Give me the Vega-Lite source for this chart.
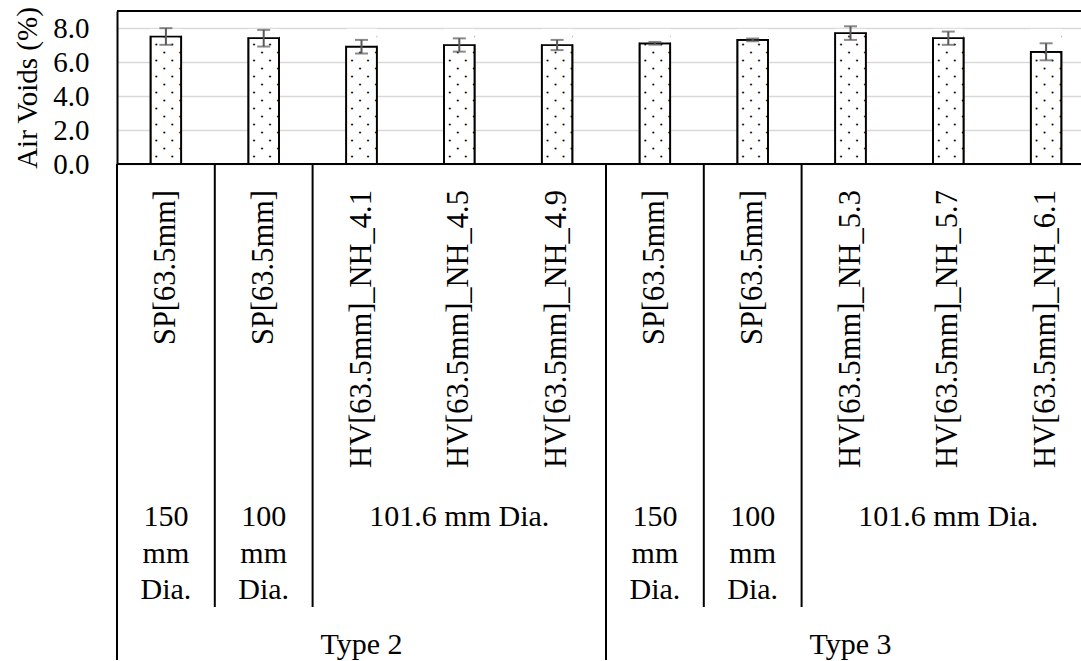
{
  "$schema": "https://vega.github.io/schema/vega-lite/v6.json",
  "padding": {"left": 13, "top": 6, "right": 0, "bottom": 0},
  "background": "white",
  "spacing": 0,
  "bounds": "flush",
  "config": {
    "font": "Liberation Serif",
    "view": {"stroke": null},
    "text": {"font": "Liberation Serif", "color": "black"},
    "axisY": {
      "grid": true, "gridColor": "#d9d9d9", "gridWidth": 1.7,
      "domainColor": "black", "domainWidth": 2, "ticks": false,
      "labelFontSize": 29, "labelPadding": 28, "labelColor": "black", "labelFont": "Liberation Serif",
      "labelOverlap": false, "labelBound": false, "labelFlush": false,
      "titleFontSize": 29, "titleFontWeight": "normal", "titleColor": "black", "titleFont": "Liberation Serif",
      "titlePadding": 10
    }
  },
  "datasets": {
    "bars": [
      {"cat": "T2_SP150", "label": "SP[63.5mm]", "value": 7.5, "lo": 7.01, "hi": 7.99},
      {"cat": "T2_SP100", "label": "SP[63.5mm]", "value": 7.4, "lo": 6.91, "hi": 7.89},
      {"cat": "T2_HV41", "label": "HV[63.5mm]_NH_4.1", "value": 6.9, "lo": 6.5, "hi": 7.3},
      {"cat": "T2_HV45", "label": "HV[63.5mm]_NH_4.5", "value": 7.0, "lo": 6.61, "hi": 7.39},
      {"cat": "T2_HV49", "label": "HV[63.5mm]_NH_4.9", "value": 7.0, "lo": 6.7, "hi": 7.3},
      {"cat": "T3_SP150", "label": "SP[63.5mm]", "value": 7.1, "lo": 7.02, "hi": 7.18},
      {"cat": "T3_SP100", "label": "SP[63.5mm]", "value": 7.3, "lo": 7.22, "hi": 7.38},
      {"cat": "T3_HV53", "label": "HV[63.5mm]_NH_5.3", "value": 7.7, "lo": 7.3, "hi": 8.1},
      {"cat": "T3_HV57", "label": "HV[63.5mm]_NH_5.7", "value": 7.4, "lo": 7.01, "hi": 7.79},
      {"cat": "T3_HV61", "label": "HV[63.5mm]_NH_6.1", "value": 6.6, "lo": 6.1, "hi": 7.1}
    ],
    "level2": [
      {"cat": "T2_SP150", "text": "150\nmm\nDia."},
      {"cat": "T2_SP100", "text": "100\nmm\nDia."},
      {"cat": "T2_HV45", "text": "101.6 mm Dia."},
      {"cat": "T3_SP150", "text": "150\nmm\nDia."},
      {"cat": "T3_SP100", "text": "100\nmm\nDia."},
      {"cat": "T3_HV57", "text": "101.6 mm Dia."}
    ],
    "level3": [
      {"cat": "T2_HV41", "text": "Type 2"},
      {"cat": "T3_HV53", "text": "Type 3"}
    ],
    "seps": [
      {"cat": "T2_SP150", "top": 0, "depth": 3},
      {"cat": "T2_SP100", "top": 0, "depth": 2},
      {"cat": "T2_HV41", "top": 0, "depth": 2},
      {"cat": "T3_SP150", "top": 0, "depth": 3},
      {"cat": "T3_SP100", "top": 0, "depth": 2},
      {"cat": "T3_HV53", "top": 0, "depth": 2}
    ],
    "lines": [{"level": 0}, {"level": 9}]
  },
  "vconcat": [
    {
      "width": 964,
      "height": 153,
      "layer": [
        {
          "data": {"name": "bars"},
          "mark": {"type": "bar", "fill": "white", "stroke": "black", "strokeWidth": 1.7, "width": {"band": 0.313}},
          "encoding": {
            "x": {
              "field": "cat", "type": "nominal", "sort": null,
              "scale": {"domain": ["T2_SP150","T2_SP100","T2_HV41","T2_HV45","T2_HV49","T3_SP150","T3_SP100","T3_HV53","T3_HV57","T3_HV61"], "range": [0, 978], "paddingInner": 0, "paddingOuter": 0},
              "axis": null
            },
            "y": {
              "field": "value", "type": "quantitative",
              "scale": {"domain": [0, 9], "nice": false, "zero": true},
              "axis": {"title": "Air Voids (%)", "values": [0, 2, 4, 6, 8], "format": ".1f", "labelOverlap": false}
            }
          }
        },
        {
          "data": {"name": "bars"},
          "mark": {"type": "text", "text": "•\u00a0\u00a0\u00a0•\n•\u00a0\u00a0\u00a0•\n•\u00a0\u00a0\u00a0•\n•\u00a0\u00a0\u00a0•\n•\u00a0\u00a0\u00a0•\n•\u00a0\u00a0\u00a0•\n•\u00a0\u00a0\u00a0•\n•\u00a0\u00a0\u00a0•", "font": "DejaVu Sans Mono", "fontSize": 6.65, "lineHeight": 16, "lineBreak": "\n", "baseline": "alphabetic", "align": "left", "dx": -3.6, "dy": 2.5, "color": "black", "clip": true},
          "encoding": {
            "x": {"field": "cat", "type": "nominal", "sort": null},
            "y": {"datum": 7.5, "type": "quantitative", "axis": {"title": "Air Voids (%)", "values": [0, 2, 4, 6, 8], "format": ".1f", "labelOverlap": false}}
          }
        },
        {
          "data": {"name": "bars"},
          "mark": {"type": "text", "text": "•\u00a0\u00a0\u00a0•\n•\u00a0\u00a0\u00a0•\n•\u00a0\u00a0\u00a0•\n•\u00a0\u00a0\u00a0•\n•\u00a0\u00a0\u00a0•\n•\u00a0\u00a0\u00a0•\n•\u00a0\u00a0\u00a0•\n•\u00a0\u00a0\u00a0•", "font": "DejaVu Sans Mono", "fontSize": 6.65, "lineHeight": 16, "lineBreak": "\n", "baseline": "alphabetic", "align": "left", "dx": -11.6, "dy": 10.5, "color": "black", "clip": true},
          "encoding": {
            "x": {"field": "cat", "type": "nominal", "sort": null},
            "y": {"datum": 7.5, "type": "quantitative", "axis": {"title": "Air Voids (%)", "values": [0, 2, 4, 6, 8], "format": ".1f", "labelOverlap": false}}
          }
        },
        {
          "data": {"name": "bars"},
          "mark": {"type": "bar", "fill": "white", "strokeWidth": 0, "width": {"band": 0.313}},
          "encoding": {
            "x": {"field": "cat", "type": "nominal", "sort": null},
            "y": {"field": "value", "type": "quantitative", "axis": {"title": "Air Voids (%)", "values": [0, 2, 4, 6, 8], "format": ".1f", "labelOverlap": false}},
            "y2": {"datum": 7.95}
          }
        },
        {
          "data": {"name": "bars"},
          "mark": {"type": "bar", "fill": "transparent", "stroke": "black", "strokeWidth": 1.7, "width": {"band": 0.313}},
          "encoding": {
            "x": {"field": "cat", "type": "nominal", "sort": null},
            "y": {"field": "value", "type": "quantitative", "axis": {"title": "Air Voids (%)", "values": [0, 2, 4, 6, 8], "format": ".1f", "labelOverlap": false}}
          }
        },
        {
          "data": {"name": "lines"},
          "mark": {"type": "rule", "color": "black", "strokeWidth": 2},
          "encoding": {"y": {"field": "level", "type": "quantitative", "axis": {"title": "Air Voids (%)", "values": [0, 2, 4, 6, 8], "format": ".1f", "labelOverlap": false}}}
        },
        {
          "data": {"name": "bars"},
          "mark": {"type": "rule", "color": "#595959", "strokeWidth": 2},
          "encoding": {
            "x": {"field": "cat", "type": "nominal", "sort": null},
            "y": {"field": "lo", "type": "quantitative", "axis": {"title": "Air Voids (%)", "values": [0, 2, 4, 6, 8], "format": ".1f", "labelOverlap": false}},
            "y2": {"field": "hi"}
          }
        },
        {
          "data": {"name": "bars"},
          "mark": {"type": "tick", "color": "#595959", "thickness": 2, "size": 13, "orient": "horizontal"},
          "encoding": {
            "x": {"field": "cat", "type": "nominal", "sort": null},
            "y": {"field": "lo", "type": "quantitative", "axis": {"title": "Air Voids (%)", "values": [0, 2, 4, 6, 8], "format": ".1f", "labelOverlap": false}}
          }
        },
        {
          "data": {"name": "bars"},
          "mark": {"type": "tick", "color": "#595959", "thickness": 2, "size": 13, "orient": "horizontal"},
          "encoding": {
            "x": {"field": "cat", "type": "nominal", "sort": null},
            "y": {"field": "hi", "type": "quantitative", "axis": {"title": "Air Voids (%)", "values": [0, 2, 4, 6, 8], "format": ".1f", "labelOverlap": false}}
          }
        }
      ]
    },
    {
      "width": 964,
      "height": 496,
      "layer": [
        {
          "data": {"name": "seps"},
          "mark": {"type": "rule", "color": "black", "strokeWidth": 2},
          "encoding": {
            "x": {
              "field": "cat", "type": "nominal", "sort": null, "bandPosition": 0,
              "scale": {"domain": ["T2_SP150","T2_SP100","T2_HV41","T2_HV45","T2_HV49","T3_SP150","T3_SP100","T3_HV53","T3_HV57","T3_HV61"], "range": [0, 978], "paddingInner": 0, "paddingOuter": 0},
              "axis": null
            },
            "y": {"field": "top", "type": "quantitative", "scale": {"domain": [0, 1, 2, 3], "range": [0, 313, 443, 496], "nice": false, "zero": false}, "axis": null},
            "y2": {"field": "depth"}
          }
        },
        {
          "data": {"name": "bars"},
          "mark": {"type": "text", "angle": 270, "align": "right", "baseline": "middle", "dx": -26, "fontSize": 30.5, "clip": true},
          "encoding": {
            "x": {"field": "cat", "type": "nominal", "sort": null},
            "y": {"datum": 0, "type": "quantitative", "axis": null},
            "text": {"field": "label"}
          }
        },
        {
          "data": {"name": "level2"},
          "mark": {"type": "text", "align": "center", "baseline": "alphabetic", "dy": 49, "fontSize": 30, "lineHeight": 36.5, "lineBreak": "\n", "clip": true},
          "encoding": {
            "x": {"field": "cat", "type": "nominal", "sort": null},
            "y": {"datum": 1, "type": "quantitative", "axis": null},
            "text": {"field": "text"}
          }
        },
        {
          "data": {"name": "level3"},
          "mark": {"type": "text", "align": "center", "baseline": "alphabetic", "dy": 47, "fontSize": 30, "clip": true},
          "encoding": {
            "x": {"field": "cat", "type": "nominal", "sort": null},
            "y": {"datum": 2, "type": "quantitative", "axis": null},
            "text": {"field": "text"}
          }
        }
      ]
    }
  ]
}
